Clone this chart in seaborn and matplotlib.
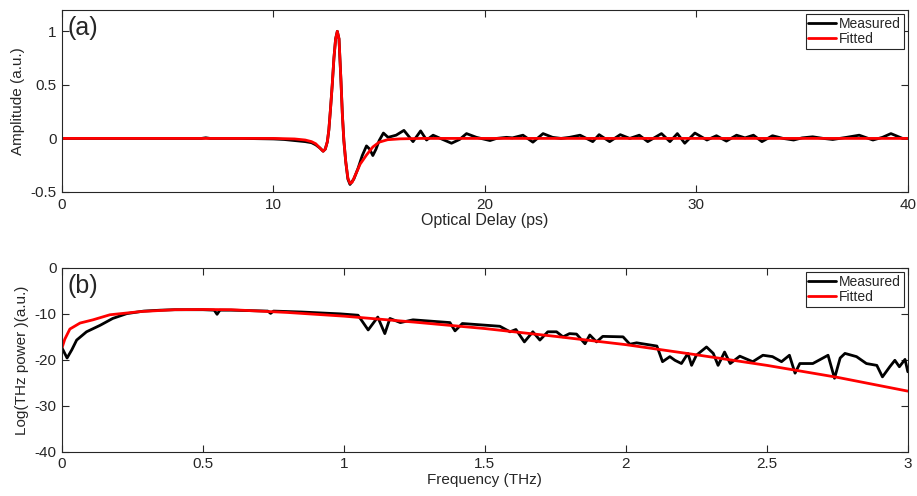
import numpy as np
import pandas as pd
import matplotlib
matplotlib.use("Agg")
import matplotlib.pyplot as plt
import seaborn as sns

# ---------------- Data ----------------
# Panel (a): time-domain pulse
meas_t = [0, 3, 5, 6.6, 6.8, 7.0, 8.5, 10, 10.5, 11, 11.5, 11.8, 12.0, 12.2, 12.35,
          12.45, 12.55, 12.62, 12.7, 12.78, 12.86, 12.94, 13.02, 13.1, 13.19, 13.26,
          13.33, 13.42, 13.52, 13.62, 13.8, 14.0, 14.2, 14.4, 14.55, 14.7, 14.85,
          15.0, 15.2, 15.42, 15.8, 16.17, 16.6, 16.96, 17.24, 17.55, 17.95, 18.42,
          18.8, 19.13, 19.6, 20.24, 20.55, 21.02, 21.3, 21.8, 22.27, 22.75, 23.2,
          23.6, 24.0, 24.5, 25.1, 25.4, 25.9, 26.4, 26.85, 27.3, 27.7, 28.35, 28.75,
          29.1, 29.45, 29.93, 30.5, 30.95, 31.42, 31.9, 32.3, 32.7, 33.1, 33.6,
          34.1, 34.6, 35.0, 35.5, 36.0, 36.45, 37.1, 37.7, 38.35, 38.8, 39.2, 39.75, 40]
meas_v = [0, 0, 0, 0, 0.006, 0, 0, -0.005, -0.01, -0.02, -0.03, -0.04, -0.06, -0.09, -0.12,
          -0.10, -0.03, 0.08, 0.28, 0.5, 0.75, 0.93, 1.0, 0.93, 0.55, 0.22,
          -0.02, -0.22, -0.38, -0.43, -0.38, -0.28, -0.16, -0.07, -0.10, -0.16, -0.10,
          -0.02, 0.05, 0.01, 0.03, 0.075, -0.03, 0.07, -0.015, 0.03, -0.005, -0.045,
          -0.01, 0.045, 0.01, -0.02, 0.0, 0.01, 0.005, 0.03, -0.035, 0.045, 0.01,
          0.0, 0.01, 0.03, -0.03, 0.035, -0.03, 0.035, 0.0, 0.03, -0.03, 0.045, -0.03,
          0.045, -0.045, 0.05, -0.015, 0.025, -0.025, 0.03, 0.005, 0.03, -0.03, 0.025,
          0.0, -0.015, 0.005, 0.015, 0.0, -0.01, 0.01, 0.03, -0.015, 0.01, 0.045, 0.0, 0.0]

fit_t = [0, 10, 11, 11.5, 11.8, 12.0, 12.2, 12.35, 12.45, 12.55, 12.62, 12.7, 12.78,
         12.86, 12.94, 13.02, 13.1, 13.19, 13.26, 13.33, 13.42, 13.52, 13.62, 13.72,
         13.9, 14.1, 14.4, 14.7, 15.0, 15.4, 16.0, 17.0, 40]
fit_v = [0, 0, -0.005, -0.015, -0.03, -0.05, -0.09, -0.12, -0.10, -0.03, 0.08, 0.28, 0.5,
         0.75, 0.93, 1.0, 0.93, 0.55, 0.22, -0.02, -0.22, -0.37, -0.42, -0.41,
         -0.33, -0.24, -0.155, -0.08, -0.035, -0.012, -0.004, 0, 0]

# Panel (b): power spectrum (log)
spec_f = [0.0, 0.018, 0.035, 0.052, 0.087, 0.135, 0.18, 0.23, 0.29, 0.35, 0.4, 0.5,
          0.54, 0.55, 0.56, 0.6, 0.73, 0.74, 0.75, 0.85, 0.95, 0.986, 1.05, 1.086,
          1.12, 1.145, 1.163, 1.2, 1.245, 1.376, 1.394, 1.42, 1.553, 1.589, 1.61,
          1.64, 1.67, 1.695, 1.723, 1.754, 1.777, 1.8, 1.825, 1.855, 1.872, 1.896,
          1.918, 1.99, 2.014, 2.038, 2.11, 2.13, 2.156, 2.174, 2.197, 2.22, 2.233,
          2.25, 2.286, 2.31, 2.327, 2.35, 2.37, 2.404, 2.45, 2.486, 2.52, 2.552,
          2.58, 2.6, 2.617, 2.663, 2.717, 2.74, 2.76, 2.777, 2.818, 2.853, 2.89,
          2.91, 2.936, 2.954, 2.97, 2.99, 3.0]
spec_meas = [-17.4, -19.6, -17.8, -15.7, -13.9, -12.5, -11.0, -9.95, -9.4, -9.2, -9.1, -9.1,
             -9.2, -10.1, -9.2, -9.2, -9.4, -9.9, -9.4, -9.6, -9.9, -10.0, -10.3, -13.5,
             -10.7, -14.3, -11.0, -11.9, -11.3, -11.9, -13.7, -12.1, -12.7, -13.9, -13.4,
             -16.1, -13.9, -15.7, -13.9, -13.9, -15.0, -14.3, -14.4, -16.5, -14.6, -16.1,
             -14.9, -15.0, -16.6, -16.3, -17.0, -20.4, -19.3, -20.1, -20.8, -18.6, -21.2,
             -19.0, -17.2, -18.6, -21.2, -18.3, -20.8, -19.2, -20.4, -19.0, -19.3, -20.4,
             -19.0, -22.9, -20.8, -20.8, -19.0, -24.0, -19.6, -18.6, -19.3, -20.8, -21.2,
             -23.7, -21.5, -20.1, -21.5, -19.9, -22.6]

fit_f = [0.0, 0.01, 0.028, 0.064, 0.11, 0.17, 0.28, 0.4, 0.5, 0.6, 0.8, 1.0, 1.25,
         1.5, 1.75, 2.0, 2.25, 2.5, 2.75, 3.0]
spec_fit = [-17.4, -15.5, -13.3, -12.0, -11.3, -10.2, -9.5, -9.1, -9.05, -9.1, -9.7,
            -10.5, -11.8, -13.2, -14.9, -16.7, -18.9, -21.2, -23.8, -26.8]

series_names = ["Measured", "Fitted"]
series_colors = ["black", "#ff0000"]

# ---------------- Plot ----------------
sns.set_style("ticks")
plt.rcParams["font.family"] = ["Liberation Sans", "DejaVu Sans"]
plt.rcParams["axes.unicode_minus"] = False
plt.rcParams["axes.edgecolor"] = "#262626"
plt.rcParams["xtick.color"] = "#262626"
plt.rcParams["ytick.color"] = "#262626"
plt.rcParams["text.color"] = "#262626"
plt.rcParams["axes.labelcolor"] = "#262626"

fig = plt.figure(figsize=(9.17, 4.96), dpi=100)
ax1 = fig.add_axes([0.0676, 0.613, 0.9224, 0.367])
ax2 = fig.add_axes([0.0676, 0.089, 0.9224, 0.371])

dfa = pd.concat([
    pd.DataFrame({"x": meas_t, "y": meas_v, "s": series_names[0]}),
    pd.DataFrame({"x": fit_t, "y": fit_v, "s": series_names[1]}),
], ignore_index=True)
dfb = pd.concat([
    pd.DataFrame({"x": spec_f, "y": spec_meas, "s": series_names[0]}),
    pd.DataFrame({"x": fit_f, "y": spec_fit, "s": series_names[1]}),
], ignore_index=True)

for ax, df in [(ax1, dfa), (ax2, dfb)]:
    sns.lineplot(data=df, x="x", y="y", hue="s", palette=series_colors,
                 hue_order=series_names, estimator=None, sort=False,
                 linewidth=2.0, ax=ax)

ax1.set_xlim(0, 40)
ax1.set_ylim(-0.5, 1.2)
ax1.set_xticks([0, 10, 20, 30, 40])
ax1.set_yticks([-0.5, 0, 0.5, 1])
ax1.set_yticklabels(["-0.5", "0", "0.5", "1"])
ax1.set_xlabel("Optical Delay (ps)", fontsize=11.5, labelpad=1)
ax1.set_ylabel("Amplitude (a.u.)", fontsize=11, labelpad=4)
ax1.text(0.006, 0.965, "(a)", transform=ax1.transAxes, fontsize=18, va="top", ha="left")

ax2.set_xlim(0, 3)
ax2.set_ylim(-40, 0)
ax2.set_xticks([0, 0.5, 1, 1.5, 2, 2.5, 3])
ax2.set_xticklabels(["0", "0.5", "1", "1.5", "2", "2.5", "3"])
ax2.set_yticks([-40, -30, -20, -10, 0])
ax2.set_xlabel("Frequency (THz)", fontsize=11, labelpad=1)
ax2.set_ylabel("Log(THz power )(a.u.)", fontsize=11, labelpad=4)
ax2.text(0.006, 0.965, "(b)", transform=ax2.transAxes, fontsize=18, va="top", ha="left")

for ax in (ax1, ax2):
    for sp in ax.spines.values():
        sp.set_visible(True)
        sp.set_linewidth(0.8)
    ax.tick_params(direction="in", length=5, width=0.8, top=True, right=True,
                   labelsize=11, pad=4)
    leg = ax.legend(loc="upper right", fontsize=10, frameon=True, fancybox=False,
                    handlelength=2.0, handletextpad=0.2, borderpad=0.2,
                    labelspacing=0.1, borderaxespad=0.3)
    leg.get_frame().set_edgecolor("#262626")
    leg.get_frame().set_linewidth(0.8)
    leg.get_frame().set_alpha(1)
    for ln in leg.get_lines():
        ln.set_linewidth(2.0)

fig.savefig("out.png", dpi=100)
